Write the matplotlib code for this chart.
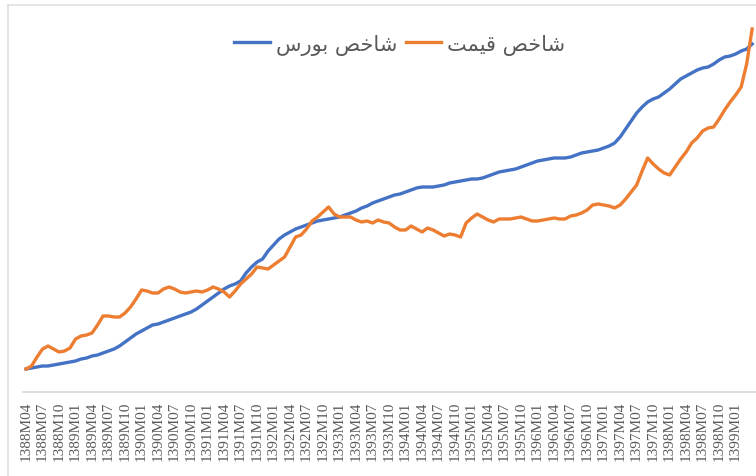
import matplotlib
matplotlib.use("Agg")
import matplotlib.pyplot as plt
from matplotlib.lines import Line2D

# monthly series, 1388M04 .. 1399M04 (relative index levels)
years = list(range(1388, 1400))
bourse = [0, 1, 2, 3, 3, 4, 5, 6, 7, 8,
          10, 11, 13, 14, 16, 18, 20, 23, 27, 31,
          35, 38, 41, 44, 45, 47, 49, 51, 53, 55,
          57, 60, 64, 68, 72, 76, 80, 83, 85, 88,
          96, 102, 107, 110, 118, 124, 130, 134, 137, 140,
          142, 144, 146, 148, 149, 150, 151, 152, 154, 156,
          158, 161, 163, 166, 168, 170, 172, 174, 175, 177,
          179, 181, 182, 182, 182, 183, 184, 186, 187, 188,
          189, 190, 190, 191, 193, 195, 197, 198, 199, 200,
          202, 204, 206, 208, 209, 210, 211, 211, 211, 212,
          214, 216, 217, 218, 219, 221, 223, 226, 232, 240,
          248, 256, 262, 267, 270, 272, 276, 280, 285, 290,
          293, 296, 299, 301, 302, 305, 309, 312, 313, 315,
          318, 320, 325]
price = [0, 3, 12, 20, 23, 20, 17, 18, 21, 30,
         33, 34, 36, 44, 53, 53, 52, 52, 56, 62,
         70, 79, 78, 76, 76, 80, 82, 80, 77, 76,
         77, 78, 77, 79, 82, 80, 77, 72, 78, 85,
         90, 95, 102, 101, 100, 104, 108, 112, 122, 132,
         134, 140, 148, 152, 157, 162, 155, 152, 152, 152,
         149, 147, 148, 146, 149, 147, 146, 142, 139, 139,
         143, 140, 137, 141, 139, 136, 133, 135, 134, 132,
         146, 151, 155, 152, 149, 147, 150, 150, 150, 151,
         152, 150, 148, 148, 149, 150, 151, 150, 150, 153,
         154, 156, 159, 164, 165, 164, 163, 161, 164, 170,
         177, 184, 198, 211, 205, 200, 196, 194, 202, 210,
         217, 226, 231, 238, 241, 242, 250, 259, 267, 274,
         282, 305, 340]
label_bourse = "شاخص بورس"
label_price = "شاخص قیمت"

months = []
for y in years:
    for m in range(1, 13):
        months.append("%dM%02d" % (y, m))
months = months[3:3 + len(bourse)]


# minimal arabic shaping (matplotlib has no bidi / joining)
FORMS = {
    "ش": ("\uFEB5", "\uFEB6", "\uFEB7", "\uFEB8"),
    "ا": ("\uFE8D", "\uFE8E", None, None),
    "خ": ("\uFEA5", "\uFEA6", "\uFEA7", "\uFEA8"),
    "ص": ("\uFEB9", "\uFEBA", "\uFEBB", "\uFEBC"),
    "ق": ("\uFED5", "\uFED6", "\uFED7", "\uFED8"),
    "ی": ("\uFEEF", "\uFEF0", "\uFEF3", "\uFEF4"),
    "م": ("\uFEE1", "\uFEE2", "\uFEE3", "\uFEE4"),
    "ت": ("\uFE95", "\uFE96", "\uFE97", "\uFE98"),
    "ب": ("\uFE8F", "\uFE90", "\uFE91", "\uFE92"),
    "و": ("\uFEED", "\uFEEE", None, None),
    "ر": ("\uFEAD", "\uFEAE", None, None),
    "س": ("\uFEB1", "\uFEB2", "\uFEB3", "\uFEB4"),
}


def shape(s):
    out = []
    for k, c in enumerate(s):
        if c not in FORMS:
            out.append(c)
            continue
        prev = s[k - 1] if k > 0 else None
        nxt = s[k + 1] if k + 1 < len(s) else None
        join_prev = prev in FORMS and FORMS[prev][2] is not None
        join_next = nxt in FORMS and FORMS[c][2] is not None
        f = FORMS[c]
        if join_prev and join_next:
            out.append(f[3])
        elif join_prev:
            out.append(f[1])
        elif join_next:
            out.append(f[2])
        else:
            out.append(f[0])
    return "".join(out)[::-1]


fig = plt.figure(figsize=(7.56, 4.77), dpi=100)
W, H = 756, 477
ax = fig.add_axes([23 / W, (H - 393) / H, 1 - 23 / W, (393 - 10) / H])

x = list(range(len(bourse)))
l1, = ax.plot(x, bourse, color="#4472C4", lw=2.4, solid_joinstyle="round")
l2, = ax.plot(x, price, color="#ED7D31", lw=2.4, solid_joinstyle="round")

ax.set_xlim(-0.55, 132.7)
ax.set_ylim(-23, 360)
ax.set_yticks([])
# the right end of the chart is cropped, so the labels stop at 1399M01
ax.set_xticks(x[:130:3])
ax.set_xticklabels(months[:130:3], rotation=90, fontsize=11,
                   family="Liberation Serif", color="#595959")
ax.tick_params(axis="x", length=0, pad=6.5)
for s in ["top", "right", "left"]:
    ax.spines[s].set_visible(False)
ax.spines["bottom"].set_color("#d9d9d9")
ax.spines["bottom"].set_linewidth(1.2)

fig.legend([l1, l2], [shape(label_bourse), shape(label_price)],
           loc="center", bbox_to_anchor=(400 / W, 1 - 45 / H), ncol=2,
           frameon=False, handlelength=1.7, handletextpad=0.3,
           columnspacing=0.4,
           prop={"family": "DejaVu Sans", "size": 15}, labelcolor="#595959")

# chart area border
fig.add_artist(Line2D([8 / W, 8 / W], [0, 1 - 6 / H], transform=fig.transFigure,
                      color="#e0e0e0", lw=1.2))
fig.add_artist(Line2D([8 / W, 1], [1 - 6 / H, 1 - 6 / H], transform=fig.transFigure,
                      color="#e0e0e0", lw=1.2))

fig.savefig("out.png", dpi=100)
